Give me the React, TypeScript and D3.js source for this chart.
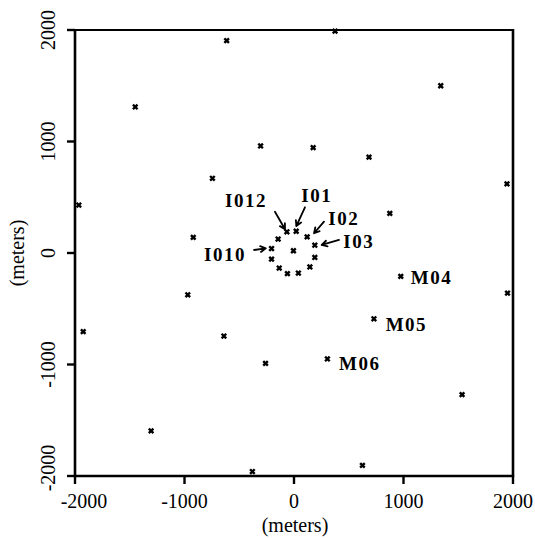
import React from "react";
import * as d3 from "d3";

const stationX = [
  -615, -1450, -305, -745, -1965, -920, 375, 1340, 175, 685, 1945, 875,
  975, 730, 305, 1950, 1535, 625, -260, -970, -1925, -640, -1305, -380,
  -65, 20, 120, 190, 190, 145, 40, -60, -135, -205, -205, -145, -5,
];
const stationY = [
  1905, 1310, 960, 670, 430, 140, 1990, 1500, 945, 860, 620, 355,
  -210, -590, -950, -360, -1270, -1905, -990, -375, -705, -745, -1595, -1960,
  190, 195, 145, 70, -40, -125, -180, -185, -135, -55, 40, 125, 20,
];

const labelNames = ["I012", "I01", "I02", "I03", "I010", "M04", "M05", "M06"];
const labelX = [-630, 67, 313, 450, -822, 1066, 837, 411];
const labelY = [412, 460, 251, 45, -69, -281, -700, -1049];

const arrowFromX = [-174, 100, 274, 411, -365];
const arrowFromY = [370, 410, 281, 117, 27];
const arrowToX = [-82, 21, 183, 253, -258];
const arrowToY = [213, 242, 177, 72, 42];

const tickValues = [-2000, -1000, 0, 1000, 2000];
const tickLabels = ["-2000", "-1000", "0", "1000", "2000"];

const W = 535;
const H = 538;
const L = 75, R = 513, T = 30, B = 476;

export default function App() {
  const x = d3.scaleLinear().domain([-2000, 2000]).range([L, R]);
  const y = d3.scaleLinear().domain([-2000, 2000]).range([B, T]);
  const serif = "'Liberation Serif', 'Times New Roman', serif";
  const hand = "'Liberation Serif', serif";
  const s = 2.3;

  const arrowPaths = arrowFromX.map((fx, i) => {
    const x0 = x(fx), y0 = y(arrowFromY[i]);
    const x1 = x(arrowToX[i]), y1 = y(arrowToY[i]);
    const a = Math.atan2(y1 - y0, x1 - x0);
    const len = 6;
    const a1 = a + Math.PI - 0.5, a2 = a + Math.PI + 0.5;
    return `M${x0},${y0}L${x1},${y1}M${x1 + len * Math.cos(a1)},${y1 + len * Math.sin(a1)}L${x1},${y1}L${x1 + len * Math.cos(a2)},${y1 + len * Math.sin(a2)}`;
  });

  return (
    <svg width={W} height={H} style={{ position: "absolute", left: 0, top: 0, background: "#fff" }}>
      {/* frame */}
      <line x1={L} y1={T} x2={R} y2={T} stroke="#000" strokeWidth={2} />
      <line x1={L} y1={T - 1} x2={L} y2={B + 1} stroke="#000" strokeWidth={2.6} />
      <line x1={R} y1={T - 1} x2={R} y2={B + 1} stroke="#000" strokeWidth={2.6} />
      <line x1={L} y1={B} x2={R} y2={B} stroke="#000" strokeWidth={2.4} />
      {/* x ticks */}
      {tickValues.map((v, i) => (
        <g key={"xt" + i}>
          <line x1={x(v)} y1={B} x2={x(v)} y2={B + 8} stroke="#000" strokeWidth={2.4} />
          <text x={x(v) + (i === 0 ? 9 : 0)} y={508} textAnchor="middle" fontFamily={serif} fontSize={20} fill="#000">
            {tickLabels[i]}
          </text>
        </g>
      ))}
      {/* y ticks */}
      {tickValues.map((v, i) => {
        const cy = y(v) - (i === 0 ? 8 : 0);
        return (
          <g key={"yt" + i}>
            <line x1={L - 8} y1={y(v)} x2={L} y2={y(v)} stroke="#000" strokeWidth={2.4} />
            <text transform={`translate(55,${cy}) rotate(-90)`} textAnchor="middle" fontFamily={serif} fontSize={20} fill="#000">
              {tickLabels[i]}
            </text>
          </g>
        );
      })}
      <text x={295} y={532} textAnchor="middle" fontFamily={serif} fontSize={20} fill="#000">(meters)</text>
      <text transform={`translate(24,${y(0)}) rotate(-90)`} textAnchor="middle" fontFamily={serif} fontSize={20} fill="#000">(meters)</text>
      {/* stations */}
      {stationX.map((v, i) => {
        const px = x(v), py = y(stationY[i]);
        return (
          <path key={"p" + i} d={`M${px - s},${py - s}L${px + s},${py + s}M${px - s},${py + s}L${px + s},${py - s}`} stroke="#000" strokeWidth={2.4} />
        );
      })}
      {/* arrows */}
      {arrowPaths.map((d, i) => (
        <path key={"a" + i} d={d} stroke="#000" strokeWidth={1.8} fill="none" strokeLinecap="round" strokeLinejoin="round" />
      ))}
      {/* labels */}
      {labelNames.map((n, i) => (
        <text key={"l" + i} x={x(labelX[i])} y={y(labelY[i])} fontFamily={hand} fontWeight="bold" fontSize={19} letterSpacing={1.5} fill="#000">
          {n}
        </text>
      ))}
    </svg>
  );
}
